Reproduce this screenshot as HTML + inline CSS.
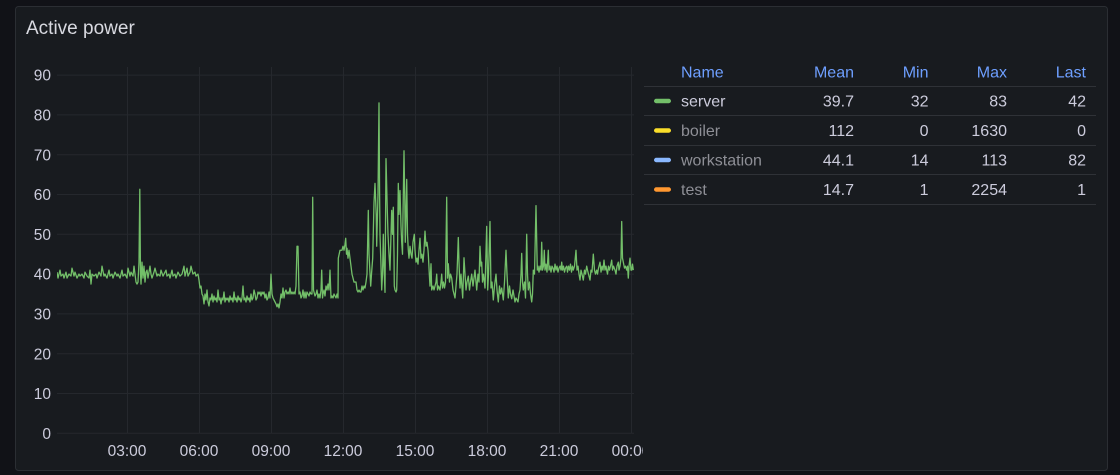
<!DOCTYPE html>
<html><head><meta charset="utf-8"><style>
html,body{margin:0;padding:0;background:#111217;}
body{width:1120px;height:475px;overflow:hidden;position:relative;font-family:"Liberation Sans",sans-serif;}
svg{position:absolute;left:0;top:0;}
</style></head><body>
<svg width="1120" height="475" viewBox="0 0 1120 475" xmlns="http://www.w3.org/2000/svg" font-family="Liberation Sans, sans-serif">
<defs><clipPath id="pc"><rect x="57" y="60" width="586" height="410"/></clipPath>
<clipPath id="lc"><rect x="57" y="60" width="578" height="380"/></clipPath></defs>
<rect x="15.5" y="6.5" width="1092" height="464" rx="3" fill="#181b1f" stroke="#2b2e33" stroke-width="1"/>
<text x="26" y="34" font-size="19" fill="#d8d9e0">Active power</text>
<g stroke="#25282d" stroke-width="1">
<line x1="57" x2="634" y1="75.1" y2="75.1"/><line x1="57" x2="634" y1="114.9" y2="114.9"/><line x1="57" x2="634" y1="154.7" y2="154.7"/><line x1="57" x2="634" y1="194.5" y2="194.5"/><line x1="57" x2="634" y1="234.3" y2="234.3"/><line x1="57" x2="634" y1="274.1" y2="274.1"/><line x1="57" x2="634" y1="313.9" y2="313.9"/><line x1="57" x2="634" y1="353.7" y2="353.7"/><line x1="57" x2="634" y1="393.5" y2="393.5"/><line x1="57" x2="634" y1="433.3" y2="433.3"/>
<line y1="67" y2="433.3" x1="127.5" x2="127.5"/><line y1="67" y2="433.3" x1="199.5" x2="199.5"/><line y1="67" y2="433.3" x1="271.5" x2="271.5"/><line y1="67" y2="433.3" x1="343.5" x2="343.5"/><line y1="67" y2="433.3" x1="415.5" x2="415.5"/><line y1="67" y2="433.3" x1="487.5" x2="487.5"/><line y1="67" y2="433.3" x1="559.5" x2="559.5"/><line y1="67" y2="433.3" x1="631.5" x2="631.5"/>
</g>
<g font-size="15.5" fill="#ccccdc" text-anchor="end">
<text x="51" y="80.7">90</text><text x="51" y="120.5">80</text><text x="51" y="160.3">70</text><text x="51" y="200.1">60</text><text x="51" y="239.9">50</text><text x="51" y="279.7">40</text><text x="51" y="319.5">30</text><text x="51" y="359.3">20</text><text x="51" y="399.1">10</text><text x="51" y="438.9">0</text>
</g>
<g font-size="15.5" fill="#ccccdc" text-anchor="middle" clip-path="url(#pc)">
<text x="127" y="456">03:00</text><text x="199" y="456">06:00</text><text x="271" y="456">09:00</text><text x="343" y="456">12:00</text><text x="415" y="456">15:00</text><text x="487" y="456">18:00</text><text x="559" y="456">21:00</text><text x="631" y="456">00:00</text>
</g>
<g clip-path="url(#lc)">
<polyline fill="none" stroke="#73bf69" stroke-width="1.3" stroke-linejoin="round" vector-effect="non-scaling-stroke" transform="matrix(1,0,0,-3.98,0,433.3)" points="57,40.5 58,39 60,41 61,39.5 63,40 64,39 66,40.5 67,39 69,40 71,39.5 72,41.5 74,39.5 75,40.5 77,39 79,40 80,39.5 82,40 84,39 85,40.5 87,39.5 89,39 90,41 91,37.5 92,40 94,39.5 96,40 97,39 99,40.5 101,39.5 102,42 104,39.5 105,40 107,39 109,41 110,39.5 112,40 113,39 115,40.5 117,39.5 118,40 120,39 122,41 123,39.5 125,40 127,39 128,41.5 130,39.5 131,40.5 133,39.5 134,42 135,40 136,38 137,37.5 138,38 139,43 139.8,61.3 140.5,40 141,37.5 142,43 143,39 144,42 145,38 146,40.5 147,41 148,39 150,42 151,40 152,39 154,40.5 155,41.5 157,39.5 158,40 160,39.5 161,41 163,39.5 164,40 166,41 167,39.5 169,40 170,39 172,41 173,39.5 175,40 176,39 178,40.5 180,39.5 182,40 184,42 185,39.5 187,41.5 188,39.5 190,40.5 191,42 193,40 195,40.5 196,39.5 198,40 199,38.5 200,36.5 201,37 202,35 203,34.5 204,32.5 205,35 206,33.5 207,36 208,33 209,32 210,34 211,33.5 212,35 213,33 214,34.5 215,33.5 216,34 217,33 218,36 219,33.5 220,34 221,32.5 222,34 223,33.5 224,35.5 225,33 226,34 227,33.5 228,34 229,33 230,34.5 231,33.5 232,34 233,33 234,35.5 235,33.5 236,34 237,33 238,34.5 239,33.5 240,34 241,33 242,34 243,37 244,33.5 245,34 246,33 247,34.5 248,33.5 249,34 250,33 251,35 252,33.5 253,34 254,36 255,35 256,33.5 257,34 258,35.5 259,35 260,35.5 261,34.5 262,35.5 263,35 264,35.5 265,34 266,35 267,33.5 268,34 269,35.5 270,34 271,40 272,35 273,34 274,33.5 275,33 276,32.5 277,31.8 278,32.5 279,31.5 280,33 281,35 282,34 283,36.5 284,34 285,35.5 286,36 287,35 288,35.5 289,35 290,36.5 291,35 292,35.5 293,35 294,35.5 295,35 296,37 297,47 298,47 299,35 300,35.5 301,34 302,34.5 303,36 304,34 305,35.5 306,34 307,35.5 308,35 309,34.5 310,35.5 311,35 312,35 312.7,59.3 313.5,36 314,35.5 315,34.5 316,35 317,36 318,34 319,35 320,34 321,36 321.7,41 322.5,34 323,35 324,36 325,34.5 326,37 327,36 328,37.5 329,36 330,41 331,34 332,34.5 333,34 334,35 335,34.5 336,34 337,35 338,34 338.3,44 340,46 342,46 343,47 344,46 345,47.5 345.7,49 346.5,45 347,46.5 348,44 349,46 350,44 351,42 352,40 353,39 354,38 355,38 356,38 357,36 358,35.5 359,36 360,35.5 361,35.5 362,37 363,36 364,37 365,36.5 366,38 367,40 368.3,56 369,45 370.7,37 371.5,40 372.7,44 374,58 375,62.8 376.2,55 376.7,47 378,60 379,83 379.6,60 380,50 381,42 381.7,36 382.5,40 383.3,50 384,42 385,35.4 386,69 387.3,56 388,50 389,45 390,41 391,50 391.7,56 392.5,50 393.3,56.8 394,45 394.3,37 395,36 396,35.5 396.7,36 397.5,45 398.3,62.8 399,55 400,61 401,52 401.7,48 402.5,45 403,55 404,71 404.7,60 405.3,48 406,55 406.7,63.8 407.5,50 408.3,46 409,44 410,47 411,45 412,44 413,48 414.3,50 415,46 416,43 417,44 418,42.5 419,46 420,49 421,44 422,45 423,43 424,46 425,50.8 426,47 427,48 428,46 428.3,45 429.3,40 430,37 431,42.6 431.7,36 433,37 434,36 435,37 436,38 436.7,40 437.5,36 438.5,37 440,36 441,38 441.7,40 442.5,36.5 443.5,38 444.5,36.5 445.5,38 446.7,59.3 447.5,39 448.3,42.6 449.5,38 450.5,40 451.7,39 453,36 455,34 456,37 457,40 458.3,49.2 459,43 460,36.5 461,40 462.7,34 464,44.1 465,40 466,36 467,38 468.3,39.5 469.5,36 470.5,38 471.7,40 473,37 474,39 475,41 476,38 476.7,36 478,40 479,38 480,47 481,42 481.7,43 482.5,38 483.5,40 485,36.5 486.7,52 487.7,36 488.5,40 490,53.2 491,36.5 492,38 493.3,33.5 494.5,37 496,40 497,36 498.3,33 499.5,37 500.5,35 501.7,36.5 503.3,33.5 504.5,38 506,46 507,40 508.3,34 509.5,37 510.5,35 511.7,33.8 513,36 514,34.5 515,33 516,34 517,33.5 518,33 519,35 520,36 521,40 521.7,45.2 522.5,38 523.3,36 524.5,38 525.5,34 526.7,50 527.5,40 528.3,36 529.5,38 530.5,35 531.7,33 532.5,35 533.3,41 534.5,40 536,57.2 537.3,41 538,42 539,40.5 540,42 541,41 541.7,48 542.5,41 543.5,42 544.3,46 545,41 546,42.5 547,40.5 548.3,46 549,41 550,42 551,40.5 552,42 553,41.5 554,40.5 555,42.5 556,41 557,42 558,40.5 559,41.5 560,42 561,41 561.7,43 562.5,41 563.5,42 564.5,40.5 565.5,41.5 566.7,42 567.5,40.5 568.5,42 569.5,41 570.5,42.5 571.5,40.5 572.5,42 573.3,41 574.5,42 576,46 577,41 578,42 579,40 580,38.5 581,41 582,40 583.3,38.5 584.5,41 585.5,40 586.7,42 587.5,41 588.5,40 590,38.5 591,41 592,40.5 593.3,45 594.5,41 595.5,40 596.7,41 597.5,40 598.5,41.5 600,43 601,40.5 602,42 603,41 604,43.5 605,41 606,42 606.7,41 607.5,40 608.5,42 609.5,41 610.5,42 611.7,43.5 612.5,41 613.5,42 615,41 616,40 617,42 618.3,43 619,41 620,42 621,44 621.7,53.2 622.5,44 623.3,43 624.5,41.5 625.5,42 626.7,41 627.5,42 628.3,39 629,42 630,44 631,41 631.7,41 632.5,42.5 633.3,41"/>
</g>
<g stroke="#2f3237" stroke-width="1">
<line x1="644" x2="1096" y1="86.5" y2="86.5"/><line x1="644" x2="1096" y1="115.5" y2="115.5"/><line x1="644" x2="1096" y1="145.5" y2="145.5"/><line x1="644" x2="1096" y1="174.5" y2="174.5"/><line x1="644" x2="1096" y1="204.5" y2="204.5"/>
</g>
<g font-size="16" fill="#6e9fff">
<text x="681" y="77.5">Name</text>
<text x="854" y="77.5" text-anchor="end">Mean</text>
<text x="928.5" y="77.5" text-anchor="end">Min</text>
<text x="1007" y="77.5" text-anchor="end">Max</text>
<text x="1086" y="77.5" text-anchor="end">Last</text>
</g>
<rect x="654" y="98.8" width="17" height="4.4" rx="2.2" fill="#73bf69"/>
<rect x="654" y="128.3" width="17" height="4.4" rx="2.2" fill="#fade2a"/>
<rect x="654" y="157.8" width="17" height="4.4" rx="2.2" fill="#8ab8ff"/>
<rect x="654" y="187.3" width="17" height="4.4" rx="2.2" fill="#ff9830"/>
<g font-size="16">
<text x="681" y="106.5" fill="#ccccdc">server</text>
<text x="681" y="136" fill="#8e8f96">boiler</text>
<text x="681" y="165.5" fill="#8e8f96">workstation</text>
<text x="681" y="195" fill="#8e8f96">test</text>
</g>
<g font-size="16" fill="#ccccdc" text-anchor="end">
<text x="854" y="106.5">39.7</text><text x="928.5" y="106.5">32</text><text x="1007" y="106.5">83</text><text x="1086" y="106.5">42</text>
<text x="854" y="136">112</text><text x="928.5" y="136">0</text><text x="1007" y="136">1630</text><text x="1086" y="136">0</text>
<text x="854" y="165.5">44.1</text><text x="928.5" y="165.5">14</text><text x="1007" y="165.5">113</text><text x="1086" y="165.5">82</text>
<text x="854" y="195">14.7</text><text x="928.5" y="195">1</text><text x="1007" y="195">2254</text><text x="1086" y="195">1</text>
</g>
</svg>
</body></html>
